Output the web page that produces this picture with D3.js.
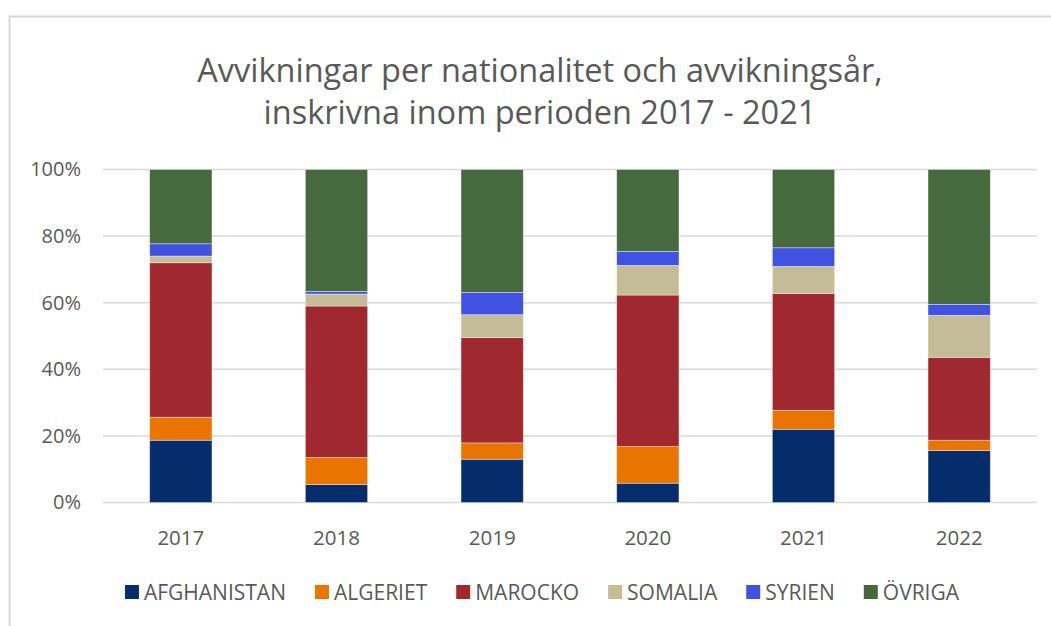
<!DOCTYPE html>
<html>
<head>
<meta charset="utf-8">
<title>Avvikningar per nationalitet</title>
<style>
  body { margin: 0; background: #fff; }
  svg { display: block; font-family: "Open Sans", sans-serif; }
</style>
<script src="https://cdn.jsdelivr.net/npm/d3@7"></script>
</head>
<body>
<script>

const years = ["2017", "2018", "2019", "2020", "2021", "2022"];
const nationalities = ["AFGHANISTAN", "ALGERIET", "MAROCKO", "SOMALIA", "SYRIEN", "ÖVRIGA"];
const colors = ["#052d6b", "#e97400", "#a0292f", "#c4bc96", "#4152e3", "#46693d"];

// share (%) per year, one array per nationality
const afghanistan = [18.7, 5.4, 13.0, 5.8, 22.0, 15.6];
const algeriet    = [6.9, 8.1, 4.9, 11.0, 5.7, 3.1];
const marocko     = [46.4, 45.5, 31.6, 45.5, 35.1, 24.9];
const somalia     = [2.0, 3.6, 6.9, 8.9, 8.1, 12.6];
const syrien      = [3.7, 0.8, 6.7, 4.2, 5.6, 3.3];
const ovriga      = [22.3, 36.6, 36.9, 24.6, 23.5, 40.5];

const yTicks = [0, 0.2, 0.4, 0.6, 0.8, 1];
const titleLines = ["Avvikningar per nationalitet och avvikningsår,", "inskrivna inom perioden 2017 - 2021"];

const series = [afghanistan, algeriet, marocko, somalia, syrien, ovriga];
const rows = years.map((y, i) => {
  let r = {year: y};
  nationalities.forEach((n, j) => r[n] = series[j][i] / 100);
  return r;
});

const W = 1051, H = 626;
const svg = d3.select("body").append("svg").attr("width", W).attr("height", H);

// chart frame
svg.append("path")
  .attr("d", "M9.5,626 V16.5 H1051")
  .attr("fill", "none")
  .attr("stroke", "#d9d9d9")
  .attr("stroke-width", 2);

const x = d3.scaleBand().domain(years).range([103, 1037]).paddingInner(0.6).paddingOuter(0.3);
const y = d3.scaleLinear().domain([0, 1]).range([502.5, 169.5]);

// title
svg.append("g").selectAll("text").data(titleLines).join("text")
  .attr("x", 540)
  .attr("y", (d, i) => 82 + i * 42)
  .attr("text-anchor", "middle")
  .attr("font-size", 32.5)
  .attr("fill", "#595959")
  .text(d => d);

// gridlines
svg.append("g").selectAll("line").data(yTicks).join("line")
  .attr("x1", 103).attr("x2", 1037)
  .attr("y1", d => y(d)).attr("y2", d => y(d))
  .attr("stroke", "#d9d9d9")
  .attr("stroke-width", 1.5);

// y axis labels
const yAxis = svg.append("g")
  .attr("transform", "translate(95,0)")
  .call(d3.axisLeft(y).tickValues(yTicks).tickFormat(d3.format(".0%")).tickSize(0).tickPadding(14));
yAxis.select(".domain").remove();
yAxis.selectAll("text").attr("font-size", 20).attr("fill", "#595959").attr("font-family", "Open Sans");

// x axis labels
const xAxis = svg.append("g")
  .attr("transform", "translate(0,502.5)")
  .call(d3.axisBottom(x).tickSize(0).tickPadding(28));
xAxis.select(".domain").remove();
xAxis.selectAll("text").attr("font-size", 20.5).attr("fill", "#595959").attr("font-family", "Open Sans");

// stacked bars
const stack = d3.stack().keys(nationalities)(rows);

svg.append("g").selectAll("g").data(stack).join("g")
  .attr("fill", (d, i) => colors[i])
  .selectAll("rect").data(d => d).join("rect")
    .attr("x", d => x(d.data.year))
    .attr("width", x.bandwidth())
    .attr("y", d => y(d[1]))
    .attr("height", d => y(d[0]) - y(d[1]))
    .attr("stroke", "#ffffff")
    .attr("stroke-opacity", 0.5)
    .attr("stroke-width", 0.75);

// legend
const legend = svg.append("g");
const items = legend.selectAll("g").data(nationalities).join("g");
items.append("rect")
  .attr("width", 14).attr("height", 14)
  .attr("y", -15)
  .attr("fill", (d, i) => colors[i]);
items.append("text")
  .attr("x", 19)
  .attr("y", 0)
  .attr("font-size", 21)
  .attr("fill", "#595959")
  .text(d => d);

let pos = 0;
items.each(function() {
  d3.select(this).attr("transform", "translate(" + pos + ",0)");
  pos += 19 + d3.select(this).select("text").node().getComputedTextLength() + 29;
});
const legendWidth = pos - 29;
legend.attr("transform", "translate(" + (542 - legendWidth / 2) + ",600)");

</script>
</body>
</html>
